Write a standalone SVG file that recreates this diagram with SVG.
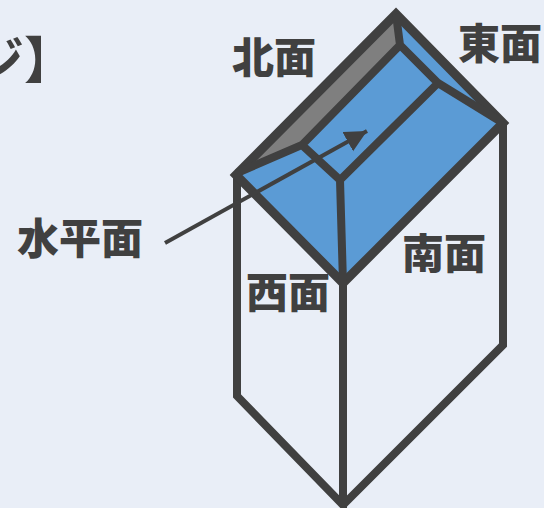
<svg xmlns="http://www.w3.org/2000/svg" width="544" height="508" viewBox="0 0 544 508">
<style>
.t{font-family:"Noto Sans CJK JP","Noto Sans CJK SC",sans-serif;font-weight:900;font-size:42px;fill:#404040}
.l{fill:none;stroke:#404040;stroke-width:8;stroke-linejoin:miter;stroke-linecap:butt}
.o{stroke-width:9}
</style>
<defs><marker id="a" markerUnits="userSpaceOnUse" markerWidth="26" markerHeight="26" refX="22" refY="11" orient="auto"><path d="M0 0L22 11L0 22Z" fill="#404040"/></marker></defs>
<rect width="544" height="508" fill="#E9EEF7"/>
<g id="roof-blue"><path d="M396 14L503 123L343 283L236 175Z" fill="#5B9BD5"/></g>
<g id="north-face"><path d="M396 14L400 45L302 145L237 173Z" fill="#7F7F7F"/></g>
<g id="connectors">
<path class="l" d="M237 175V396L343 505V283M343 505L503 345V123"/>
<path class="l o" d="M236 175L396 14L503 123L343 283Z"/>
<path class="l" d="M396 14L400 45L302 145L237 173M400 45L438 83L503 123M302 145L340 180L438 83M340 180L343 283"/>
<path d="M165 243L367 131" stroke="#404040" stroke-width="4" fill="none" marker-end="url(#a)"/>
</g>
<g id="label-top"><text class="t" style="font-size:50px;font-weight:700" x="-26" y="78">ジ】</text></g>
<g id="label-north"><text class="t" x="232" y="73">北面</text></g>
<g id="label-east"><text class="t" x="458" y="59">東面</text></g>
<g id="label-south"><text class="t" x="402" y="269">南面</text></g>
<g id="label-west"><text class="t" x="246" y="308">西面</text></g>
<g id="label-horizontal"><text class="t" x="17" y="254">水平面</text></g>
</svg>
